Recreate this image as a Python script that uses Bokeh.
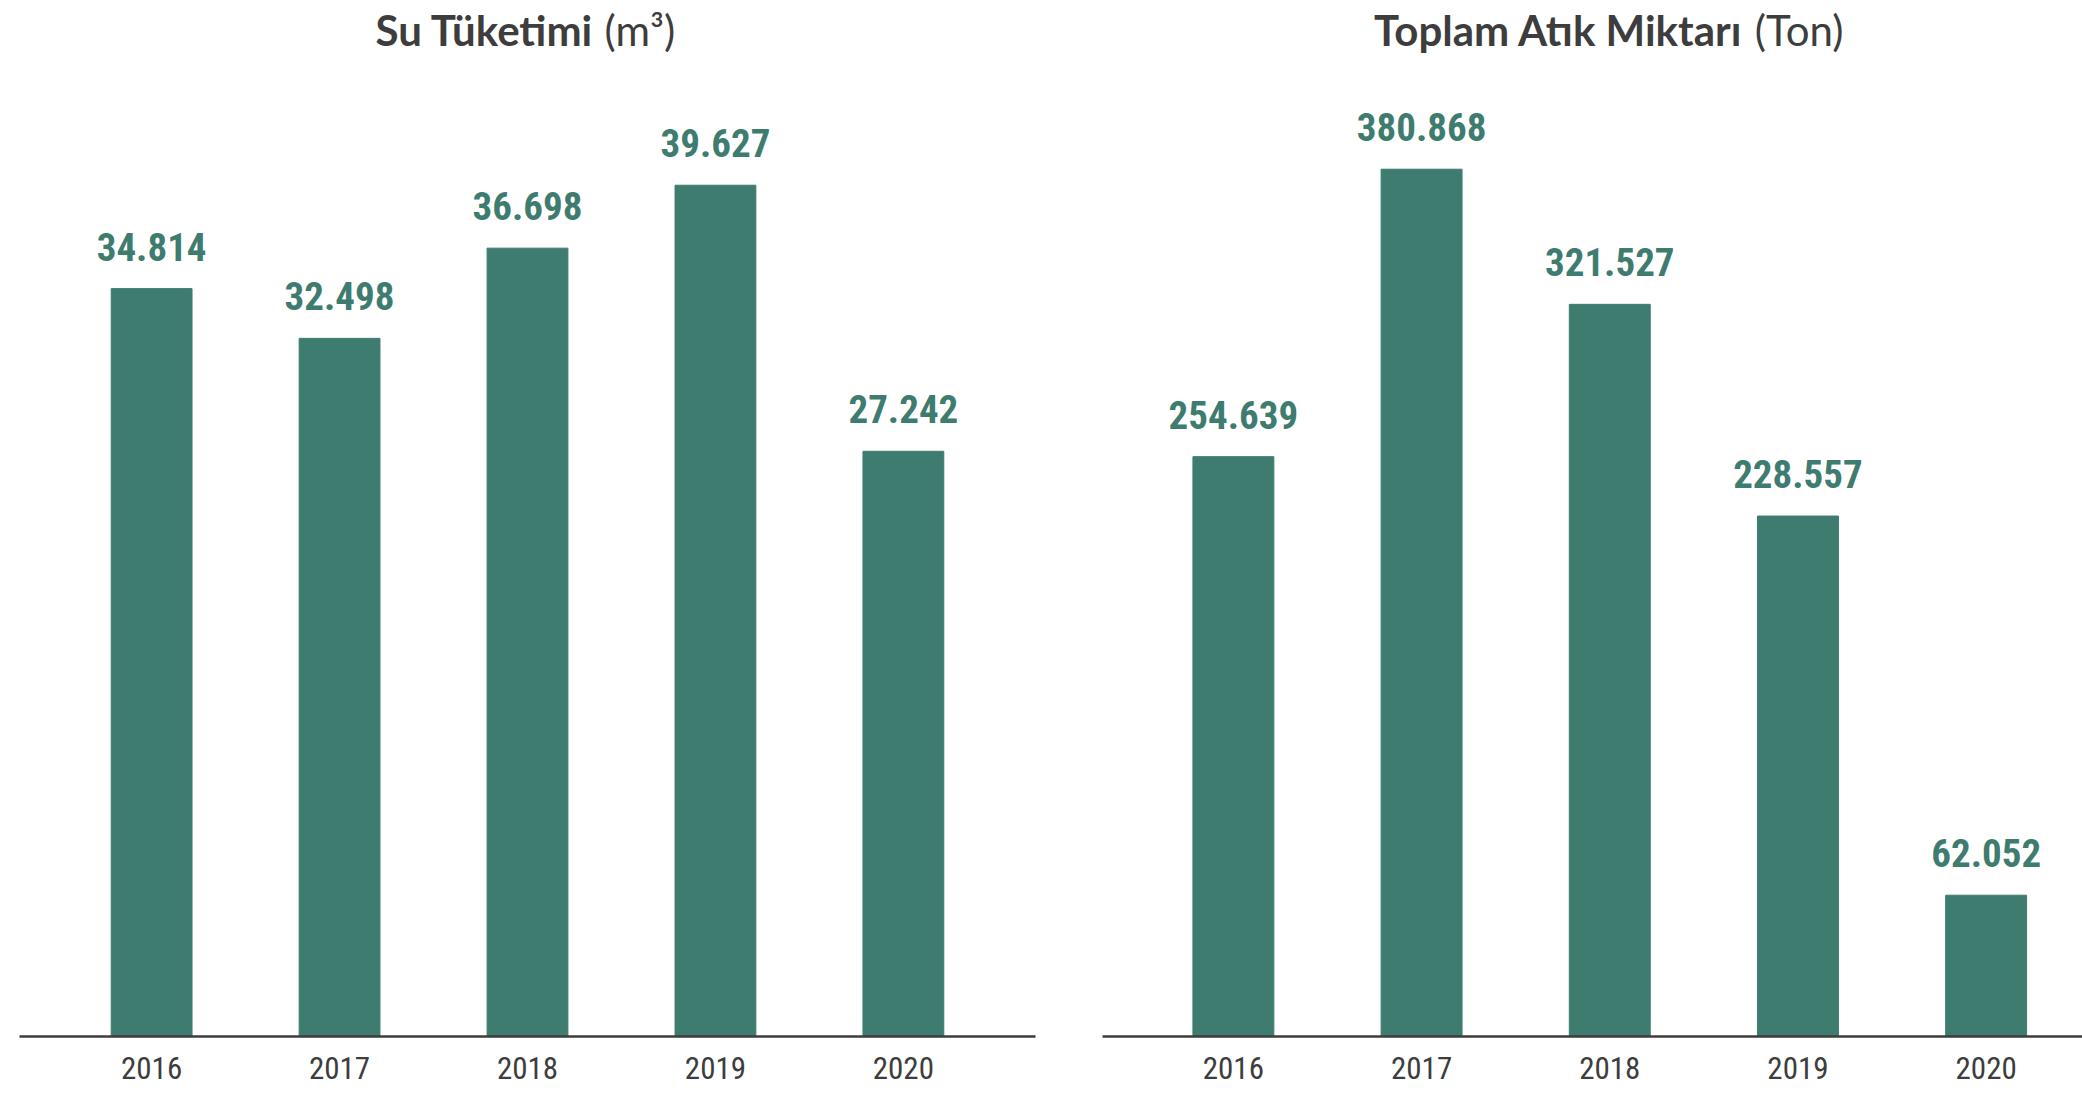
from bokeh.plotting import figure
from bokeh.models import ColumnDataSource, Range1d, FixedTicker
from bokeh.layouts import row
from bokeh.embed import file_html
from bokeh.resources import INLINE
from bokeh.core.properties import value

years = ["2016", "2017", "2018", "2019", "2020"]
water = [34814, 32498, 36698, 39627, 27242]
waste = [254639, 380868, 321527, 228557, 62052]
titles_bold = ["Su Tüketimi", "Toplam Atık Miktarı"]
titles_unit = ["(m³)", "(Ton)"]

BAR = "#3e7c70"
DARK = "#3d3d3d"
NUM_FONT = "Roboto Condensed"
FRAME_H = 1036
TITLE_Y = 29  # px from top


def fmt(v):
    return f"{v:,}".replace(",", ".")


def make(vals, ymax, xr, fw, bl, br, bold, unit, split):
    xs = list(range(len(years)))
    src = ColumnDataSource(dict(x=xs, top=vals, lab=[fmt(v) for v in vals]))
    p = figure(frame_width=fw, frame_height=FRAME_H, x_range=Range1d(*xr),
               y_range=Range1d(0, ymax), output_backend="svg", toolbar_location=None,
               min_border_left=bl, min_border_right=br, min_border_top=0,
               min_border_bottom=56, outline_line_color=None)
    p.vbar(x="x", top="top", width=0.43, color=BAR, source=src)
    p.text(x="x", y="top", text="lab", source=src, text_align="center",
           text_baseline="alphabetic", y_offset=-42, text_color=BAR,
           text_font=value(NUM_FONT), text_font_style="bold", text_font_size="39px")
    ty = ymax * (1 - TITLE_Y / FRAME_H)
    p.text(x=[2], y=[ty], text=[bold], x_offset=split[0], text_align="right",
           text_baseline="middle", text_font=value("Lato"), text_font_style="bold",
           text_font_size="42px", text_color=DARK)
    p.text(x=[2], y=[ty], text=[unit], x_offset=split[1], text_align="left",
           text_baseline="middle", text_font=value("Lato"),
           text_font_size="42px", text_color=DARK)
    p.yaxis.visible = False
    p.xgrid.visible = False
    p.ygrid.visible = False
    p.xaxis.ticker = FixedTicker(ticks=xs)
    p.xaxis.major_label_overrides = {i: y for i, y in enumerate(years)}
    p.xaxis.major_tick_line_color = None
    p.xaxis.minor_tick_line_color = None
    p.xaxis.axis_line_color = DARK
    p.xaxis.axis_line_width = 2.5
    p.xaxis.major_label_text_font = NUM_FONT
    p.xaxis.major_label_text_font_size = "31px"
    p.xaxis.major_label_text_color = DARK
    p.xaxis.major_label_standoff = 14
    return p


left = make(water, 48226, (-0.703, 4.703), 1016, 19, 30,
            titles_bold[0], titles_unit[0], (66, 77))
right = make(waste, 454953, (-0.6955, 4.512), 980, 37, 0,
             titles_bold[1], titles_unit[1], (133, 145))

layout = row(left, right)
open("out.html", "w").write(file_html(layout, INLINE))
